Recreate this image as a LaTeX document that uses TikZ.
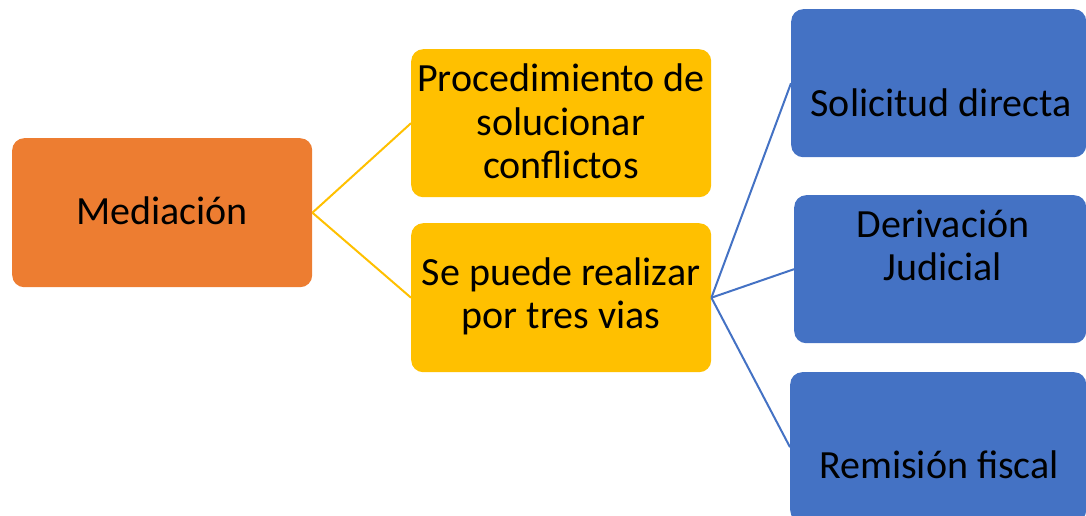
\documentclass[tikz,border=0pt]{standalone}
\usepackage{fontspec}
\setmainfont{Carlito}
\definecolor{orangeC}{HTML}{ED7D31}
\definecolor{yellowC}{HTML}{FFC000}
\definecolor{blueC}{HTML}{4472C4}
\tikzset{
  box/.style={rounded corners=12pt, inner sep=0pt, anchor=north west},
  txt/.style={font=\fontsize{40}{43}\selectfont, align=center, inner sep=0pt, anchor=base, text=black},
  yline/.style={draw=yellowC, line width=2pt},
  bline/.style={draw=blueC, line width=2pt},
}
\begin{document}
\begin{tikzpicture}[x=1pt,y=-1pt]
\useasboundingbox (0,0) rectangle (1086,516);
% boxes
\node[box, fill=orangeC, minimum width=300pt, minimum height=149pt] (med) at (12,138) {};
\node[box, fill=yellowC, minimum width=300pt, minimum height=148pt] (proc) at (411,49) {};
\node[box, fill=yellowC, minimum width=300pt, minimum height=149pt] (vias) at (411,223) {};
\node[box, fill=blueC, minimum width=295pt, minimum height=148pt] (sol) at (791,9) {};
\node[box, fill=blueC, minimum width=292pt, minimum height=148pt] (der) at (794,195) {};
\node[box, fill=blueC, minimum width=296pt, minimum height=150pt] (rem) at (790,372) {};
% texts (anchored at the baseline of the last line)
\node[txt] (tmed) at (162,224) {Mediación};
\node[txt] (tproc) at (561,178) {Procedimiento de\\solucionar\\conflictos};
\node[txt] (tvias) at (561,328) {Se puede realizar\\por tres vias};
\node[txt] (tsol) at (941,117) {Solicitud directa};
\node[txt] (tder) at (943,280) {Derivación\\Judicial};
\node[txt] (trem) at (939,478) {Remisión fiscal};
% connectors
\draw[yline] (med.east) -- (proc.west);
\draw[yline] (med.east) -- (vias.west);
\draw[bline] (vias.east) -- (sol.west);
\draw[bline] (vias.east) -- (der.west);
\draw[bline] (vias.east) -- (rem.west);
\end{tikzpicture}
\end{document}
